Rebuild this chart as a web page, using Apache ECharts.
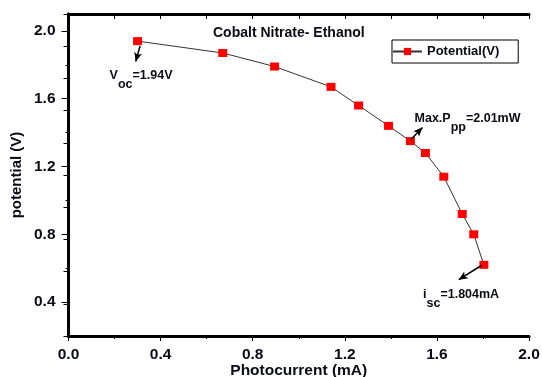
<!DOCTYPE html>
<html>
<head>
<meta charset="utf-8">
<script src="https://cdn.jsdelivr.net/npm/echarts@6/dist/echarts.min.js"></script>
<style>
    html, body { margin: 0; padding: 0; background: #fff; }
    #chart { width: 542px; height: 377px; }
</style>
</head>
<body>
<div id="chart"></div>
<script>
// photocurrent (mA) vs potential (V)
const current = [0.30, 0.67, 0.895, 1.14, 1.26, 1.39, 1.485, 1.55, 1.63, 1.71, 1.76, 1.804];
const potential = [1.94, 1.87, 1.79, 1.67, 1.56, 1.44, 1.35, 1.28, 1.14, 0.92, 0.80, 0.62];

const yMajor = [0.4, 0.8, 1.2, 1.6, 2.0];
const yMinor = [0.2, 0.6, 1.0, 1.4, 1.8];

// annotation arrows [from, to] and label anchors, in data units
const arrows = [
    [[0.311, 1.912], [0.292, 1.82]],
    [[1.487, 1.36], [1.537, 1.43]],
    [[1.793, 0.616], [1.695, 0.532]]
];
const notes = [
    { at: [0.315, 1.71], text: '{a|V}{b|oc}{a|=1.94V}' },
    { at: [1.733, 1.456], text: '{a|Max.P}{b|pp}{a|=2.01mW}' },
    { at: [1.705, 0.42], text: '{a|i}{b|sc}{a|=1.804mA}' }
];

const font = '"Liberation Sans", Arial, sans-serif';
const ink = '#0a0a14';

let myChart = echarts.init(document.getElementById('chart'));

let option = {
    animation: false,
    title: {
        text: 'Cobalt Nitrate- Ethanol',
        left: 213,
        top: 26,
        padding: 0,
        textStyle: { fontFamily: font, fontSize: 14, fontWeight: 'bold', color: ink }
    },
    legend: {
        left: 392,
        top: 40,
        width: 126,
        height: 21,
        padding: [5, 19, 5, 0],
        borderColor: '#000',
        borderWidth: 1,
        itemWidth: 29,
        itemHeight: 9,
        itemGap: 4,
        textStyle: { fontFamily: font, fontSize: 13, fontWeight: 'bold', color: ink }
    },
    grid: { left: 68.5, right: 13, top: 14, bottom: 41, outerBoundsMode: 'none' },
    xAxis: [{
        type: 'value',
        min: 0,
        max: 2,
        interval: 0.4,
        name: 'Photocurrent (mA)',
        nameLocation: 'middle',
        nameMoveOverlap: false,
        nameGap: 27,
        nameTextStyle: { fontFamily: font, fontSize: 15.5, fontWeight: 'bold', color: ink },
        axisLine: { lineStyle: { color: '#000', width: 3 } },
        axisTick: { length: 5, lineStyle: { color: '#000', width: 1 } },
        minorTick: { show: true, splitNumber: 2, length: 3, lineStyle: { color: '#000' } },
        axisLabel: {
            fontFamily: font, fontSize: 15.5, fontWeight: 'bold', color: ink, margin: 11,
            formatter: v => v.toFixed(1)
        },
        splitLine: { show: false }
    }, {
        type: 'value',
        position: 'top',
        min: 0,
        max: 2,
        interval: 0.2,
        axisLine: { lineStyle: { color: '#000', width: 3 } },
        axisTick: { inside: true, length: 5, lineStyle: { color: '#000' } },
        axisLabel: { show: false },
        splitLine: { show: false }
    }],
    yAxis: [{
        type: 'value',
        min: 0.2,
        max: 2.1,
        name: 'potential (V)',
        nameLocation: 'middle',
        nameMoveOverlap: false,
        nameGap: 44,
        nameTextStyle: { fontFamily: font, fontSize: 15, fontWeight: 'bold', color: ink },
        axisLine: { lineStyle: { color: '#000', width: 3 } },
        axisTick: { length: 7, customValues: yMajor, lineStyle: { color: '#000' } },
        axisLabel: {
            customValues: yMajor,
            fontFamily: font, fontSize: 15.5, fontWeight: 'bold', color: ink, margin: 13,
            formatter: v => v.toFixed(1)
        },
        splitLine: { show: false }
    }, {
        type: 'value',
        position: 'right',
        min: 0,
        max: 10,
        interval: 1,
        axisLine: { lineStyle: { color: '#000', width: 3 } },
        axisTick: { inside: true, length: 5, lineStyle: { color: '#000' } },
        axisLabel: { show: false },
        splitLine: { show: false }
    }, {
        type: 'value',
        position: 'left',
        min: 0.2,
        max: 2.1,
        axisLine: { show: false },
        axisTick: { length: 3, customValues: yMinor, lineStyle: { color: '#000' } },
        axisLabel: { show: false, customValues: yMinor },
        splitLine: { show: false }
    }],
    series: [{
        name: 'Potential(V)',
        type: 'line',
        xAxisIndex: 0,
        yAxisIndex: 0,
        symbol: 'rect',
        symbolSize: [9, 8],
        data: current.map((c, i) => [c, potential[i]]),
        lineStyle: { color: '#333', width: 1 },
        itemStyle: { color: '#ff0000' },
        markLine: {
            silent: true,
            symbol: ['none', 'arrow'],
            symbolSize: [6, 9],
            label: { show: false },
            lineStyle: { color: '#000', width: 1.5, type: 'solid' },
            data: arrows.map(a => [{ coord: a[0] }, { coord: a[1] }])
        },
        markPoint: {
            silent: true,
            symbol: 'circle',
            symbolSize: 0,
            data: notes.map(n => ({
                coord: n.at,
                label: {
                    show: true,
                    position: 'inside',
                    formatter: n.text,
                    rich: {
                        a: { fontFamily: font, fontSize: 12.5, fontWeight: 'bold', color: ink, lineHeight: 14, verticalAlign: 'top' },
                        b: { fontFamily: font, fontSize: 12.5, fontWeight: 'bold', color: ink, lineHeight: 22, verticalAlign: 'bottom' }
                    }
                }
            }))
        }
    }]
};

myChart.setOption(option);
</script>
</body>
</html>
